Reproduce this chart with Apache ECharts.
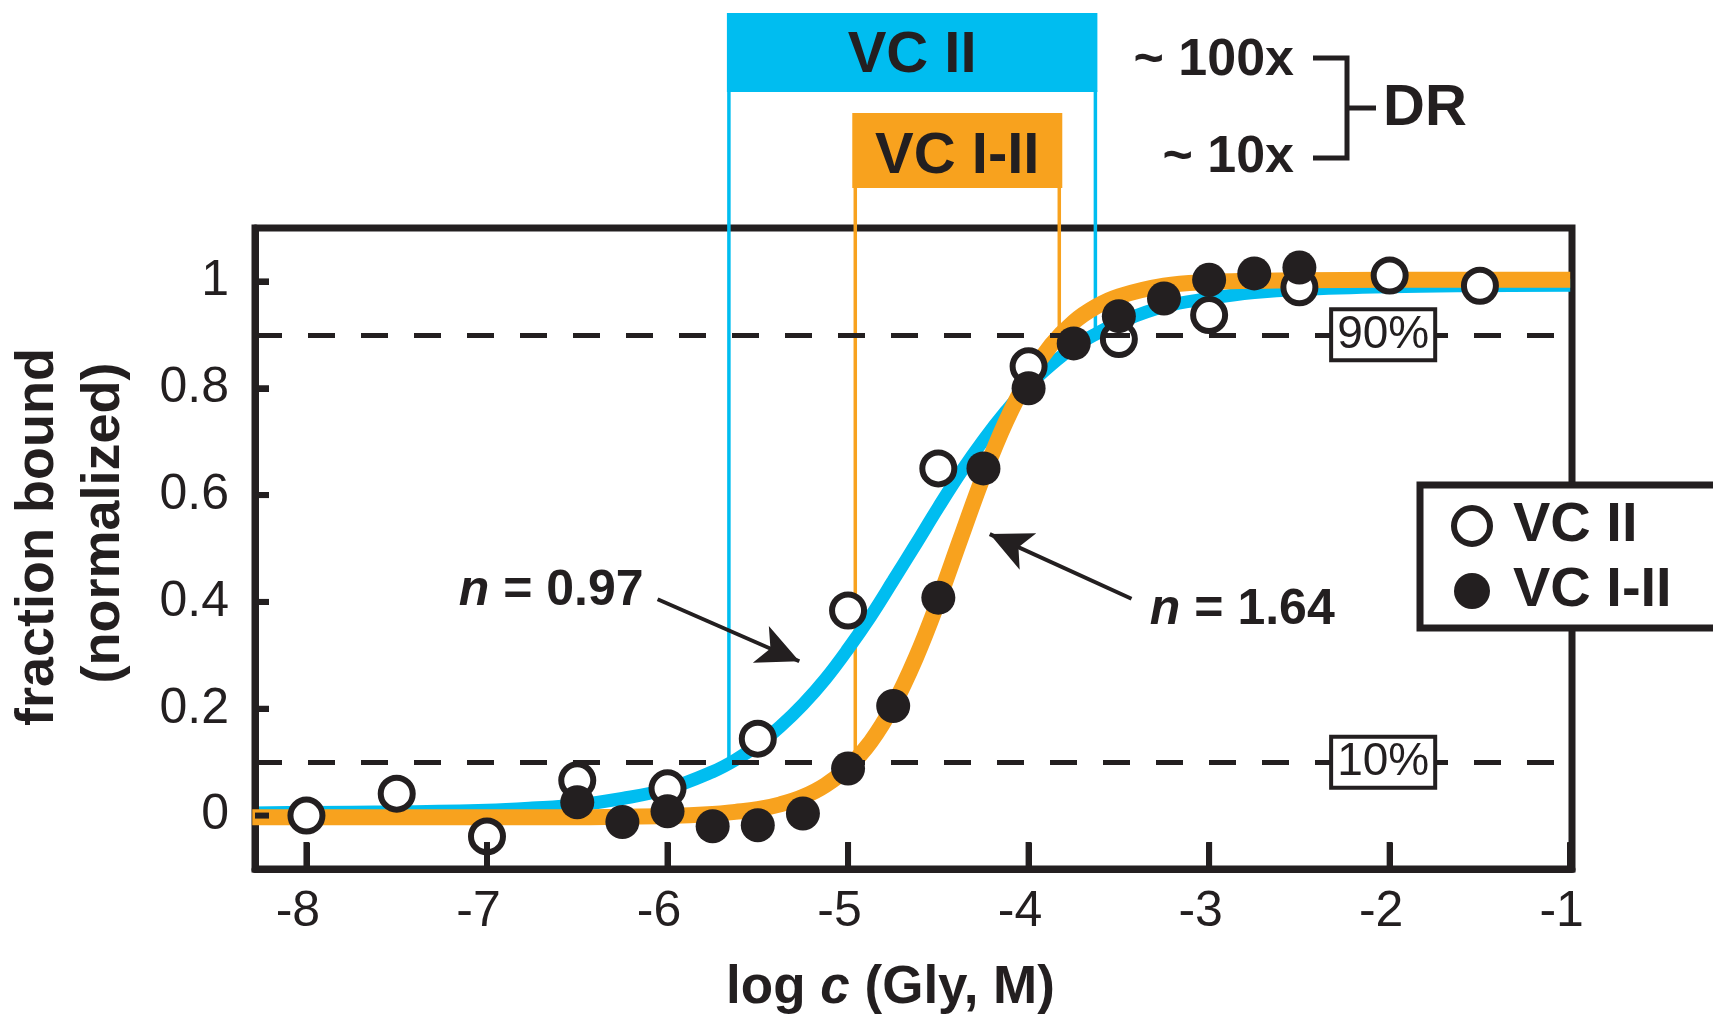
<!DOCTYPE html>
<html>
<head>
<meta charset="utf-8">
<title>fraction bound vs log c</title>
<script src="https://cdn.jsdelivr.net/npm/echarts@6.0.0/dist/echarts.min.js"></script>
<style>
  html, body { margin: 0; padding: 0; background: #fff; }
  #chart { width: 1713px; height: 1016px; }
</style>
</head>
<body>
<div id="chart"></div>
<script>
var ink = '#231f20';
var blue = '#00bdf0';
var orange = '#f8a21e';
var font = "'Liberation Sans', Arial, Helvetica, sans-serif";

// measured points, x = log c (Gly, M)
var vc2X = [-8, -7.5, -7, -6.5, -6, -5.5, -5, -4.5, -4, -3.5, -3, -2.5, -2, -1.5];
var vc2Y = [0.0, 0.041, -0.039, 0.066, 0.051, 0.144, 0.384, 0.65, 0.841, 0.892, 0.937, 0.989, 1.011, 0.992];
var vc12X = [-6.5, -6.25, -6, -5.75, -5.5, -5.25, -5, -4.75, -4.5, -4.25, -4, -3.75, -3.5, -3.25, -3, -2.75, -2.5];
var vc12Y = [0.025, -0.012, 0.008, -0.02, -0.018, 0.004, 0.088, 0.205, 0.408, 0.65, 0.8, 0.884, 0.935, 0.968, 1.003, 1.015, 1.026];

// fitted curves
var fitX = [-8.3, -8, -7.5, -7, -6.75, -6.5, -6.25, -6, -5.75, -5.625, -5.5, -5.375, -5.25, -5.125, -5,
  -4.875, -4.75, -4.625, -4.5, -4.375, -4.25, -4.125, -4, -3.875, -3.75, -3.625, -3.5, -3.25, -3,
  -2.75, -2.5, -2, -1.5, -1];
var fitVC2 = [0.005, 0.006, 0.007, 0.010, 0.014, 0.020, 0.032, 0.050, 0.082, 0.104, 0.132, 0.167, 0.208, 0.256, 0.312,
  0.373, 0.440, 0.508, 0.577, 0.643, 0.703, 0.757, 0.805, 0.844, 0.877, 0.902, 0.923, 0.953, 0.968,
  0.979, 0.985, 0.990, 0.992, 0.993];
var fitVC12 = [-0.003, -0.003, -0.003, -0.003, -0.003, -0.003, -0.002, -0.001, 0.003, 0.007, 0.012, 0.021, 0.035, 0.057, 0.090,
  0.138, 0.206, 0.295, 0.402, 0.520, 0.636, 0.738, 0.820, 0.881, 0.924, 0.953, 0.972, 0.992, 0.999,
  1.001, 1.002, 1.003, 1.003, 1.003];

var xTicks = [-8, -7, -6, -5, -4, -3, -2, -1];
var yTicks = [0, 0.2, 0.4, 0.6, 0.8, 1];
var xMin = -8.285, xMax = -0.99, yMin = -0.1, yMax = 1.1;

// 10% -> 90% crossing of each fit (dynamic range)
var rangeVC2 = [-5.66, -3.63];
var rangeVC12 = [-4.96, -3.83];
var levels = [0.1, 0.9];
var levelText = ['10%', '90%'];

function pairs(xs, ys) {
  return xs.map(function (x, i) { return [x, ys[i]]; });
}

var dash = { type: [27, 26], width: 5, color: ink };
var arrowLine = { type: 'solid', width: 4, color: ink };

function boxLabel(txt) {
  return {
    show: true, position: 'inside', formatter: txt,
    fontSize: 46, lineHeight: 42, color: ink, fontFamily: font,
    backgroundColor: '#fff', borderColor: ink, borderWidth: 4, padding: [3, 4, 2, 4]
  };
}
function nLabel(txt, pos) {
  return {
    show: true, position: pos, distance: 0, formatter: '{i|n} = ' + txt,
    fontSize: 50, fontWeight: 'bold', color: ink, fontFamily: font,
    rich: { i: { fontStyle: 'italic', fontWeight: 'bold', fontSize: 50, color: ink, fontFamily: font } }
  };
}
var hidden = { color: 'rgba(0,0,0,0)' };
var frame = { color: ink, width: 7 };

var option = {
  animation: false,
  backgroundColor: '#fff',
  textStyle: { fontFamily: font },
  grid: {
    left: 255, top: 228, width: 1317, height: 641,
    show: true, borderColor: ink, borderWidth: 7, backgroundColor: 'transparent',
    containLabel: false, outerBoundsMode: 'none'
  },
  legend: {
    orient: 'vertical', left: 1420, top: 485,
    data: [
      { name: 'VC II', icon: 'circle', itemStyle: { color: '#fff', borderColor: ink, borderWidth: 6 } },
      { name: 'VC I-II', icon: 'circle', itemStyle: { color: ink, borderWidth: 0 } }
    ],
    itemWidth: 36, itemHeight: 36, itemGap: 9,
    padding: [13, 90, 9, 31],
    backgroundColor: '#fff', borderColor: ink, borderWidth: 7,
    textStyle: { fontSize: 56, lineHeight: 52, fontWeight: 'bold', color: ink, fontFamily: font, padding: [0, 0, 0, 18] },
    selectedMode: false
  },
  xAxis: {
    type: 'value', min: xMin, max: xMax, position: 'bottom', z: 3,
    axisLine: { show: true, onZero: false, lineStyle: frame },
    splitLine: { show: false },
    axisTick: { show: true, inside: true, length: 26, customValues: xTicks, lineStyle: { color: ink, width: 6 } },
    axisLabel: { customValues: xTicks, margin: 18, fontSize: 50, color: ink, fontFamily: font, padding: [0, 17, 0, 0] },
    name: '{a|log }{b|c}{a| (Gly, M)}',
    nameLocation: 'middle', nameGap: 93,
    nameTextStyle: {
      padding: [0, 46, 0, 0],
      rich: {
        a: { fontSize: 53, fontWeight: 'bold', color: ink, fontFamily: font },
        b: { fontSize: 53, fontWeight: 'bold', fontStyle: 'italic', color: ink, fontFamily: font }
      }
    }
  },
  yAxis: {
    type: 'value', min: yMin, max: yMax, position: 'left', z: 3,
    axisLine: { show: true, onZero: false, lineStyle: frame },
    splitLine: { show: false },
    axisTick: { show: true, inside: true, length: 14, customValues: yTicks, lineStyle: { color: ink, width: 6 } },
    axisLabel: { customValues: yTicks, margin: 26, fontSize: 50, color: ink, fontFamily: font }
  },
  series: [
    {
      name: 'fit VC II', type: 'line', z: 2,
      data: pairs(fitX, fitVC2),
      showSymbol: false, symbol: 'none', smooth: 0.4,
      lineStyle: { color: blue, width: 13 },
      markLine: {
        silent: true, symbol: 'none', label: { show: false },
        data: [
          { yAxis: levels[1], lineStyle: dash },
          { yAxis: levels[0], lineStyle: dash }
        ]
      },
      markPoint: {
        silent: true, symbol: 'circle', symbolSize: 1, itemStyle: hidden,
        data: [
          { coord: [-2.036, levels[1]], label: boxLabel(levelText[1]) },
          { coord: [-2.036, levels[0]], label: boxLabel(levelText[0]) },
          { coord: [-6.13, 0.42], label: nLabel('0.97', 'left') }
        ]
      }
    },
    {
      name: 'fit VC I-II', type: 'line', z: 3,
      data: pairs(fitX, fitVC12),
      showSymbol: false, symbol: 'none', smooth: 0.4,
      lineStyle: { color: orange, width: 16 },
      markLine: {
        silent: true, symbol: 'none', label: { show: false },
        data: [
          [{ coord: [-6.055, 0.405], symbol: 'none', lineStyle: arrowLine },
           { coord: [-5.27, 0.289], symbol: 'arrow', symbolSize: [30, 42] }],
          [{ coord: [-3.43, 0.406], symbol: 'none', lineStyle: arrowLine },
           { coord: [-4.215, 0.527], symbol: 'arrow', symbolSize: [30, 42] }]
        ]
      },
      markPoint: {
        silent: true, symbol: 'circle', symbolSize: 1, itemStyle: hidden,
        data: [
          { coord: [-3.331, 0.385], label: nLabel('1.64', 'right') }
        ]
      }
    },
    {
      name: 'VC II', type: 'scatter', z: 4,
      data: pairs(vc2X, vc2Y),
      symbol: 'circle', symbolSize: 32,
      itemStyle: { color: '#fff', borderColor: ink, borderWidth: 6, opacity: 1 }
    },
    {
      name: 'VC I-II', type: 'scatter', z: 5,
      data: pairs(vc12X, vc12Y),
      symbol: 'circle', symbolSize: 34,
      itemStyle: { color: ink, opacity: 1 }
    }
  ]
};

var chart = echarts.init(document.getElementById('chart'), null, { renderer: 'canvas' });
chart.setOption(option);

function px(x, y) {
  return chart.convertToPixel({ gridIndex: 0 }, [x, y]);
}

// dynamic range brackets above the plot
var b0 = px(rangeVC2[0], levels[0]), b1 = px(rangeVC2[1], levels[1]);
var o0 = px(rangeVC12[0], levels[0]), o1 = px(rangeVC12[1], levels[1]);
var boldText = function (txt, x, y, size, align) {
  return {
    type: 'text', z: 10, x: x, y: y,
    style: { text: txt, fill: ink, font: 'bold ' + size + 'px ' + font, align: align || 'center', verticalAlign: 'middle' }
  };
};
var vline = function (x, yTop, yBot, color) {
  return { type: 'line', z: 0, shape: { x1: x, y1: yTop, x2: x, y2: yBot }, style: { stroke: color, lineWidth: 3.5 } };
};

// inward tick marks on the frame, placed through the axis scales, on their own layer
var tickMarks = xTicks.map(function (v) {
  var p = px(v, yMin);
  return { type: 'line', zlevel: 1, z: 100, silent: true, shape: { x1: p[0], y1: p[1], x2: p[0], y2: p[1] - 27 }, style: { stroke: ink, lineWidth: 6 } };
}).concat(yTicks.map(function (v) {
  var p = px(xMin, v);
  return { type: 'line', zlevel: 1, z: 100, silent: true, shape: { x1: p[0], y1: p[1], x2: p[0] + 14, y2: p[1] }, style: { stroke: ink, lineWidth: 6 } };
}));

chart.setOption({
  graphic: [
    { type: 'rect', z: 0, shape: { x: b0[0] - 2, y: 13, width: b1[0] - b0[0] + 4, height: 79 }, style: { fill: blue } },
    vline(b0[0], 90, b0[1], blue),
    vline(b1[0], 90, b1[1], blue),
    { type: 'rect', z: 0, shape: { x: o0[0] - 3, y: 113, width: o1[0] - o0[0] + 6, height: 75 }, style: { fill: orange } },
    vline(o0[0], 186, o0[1], orange),
    vline(o1[0], 186, o1[1], orange),
    boldText('VC II', (b0[0] + b1[0]) / 2, 56, 58),
    boldText('VC I-II', (o0[0] + o1[0]) / 2, 157, 58),
    boldText('~ 100x', 1294, 61, 52, 'right'),
    boldText('~ 10x', 1294, 158, 52, 'right'),
    {
      type: 'polyline', z: 10,
      shape: { points: [[1313, 58], [1347, 58], [1347, 158], [1313, 158]] },
      style: { stroke: ink, lineWidth: 5, fill: null }
    },
    { type: 'line', z: 10, shape: { x1: 1347, y1: 108, x2: 1376, y2: 108 }, style: { stroke: ink, lineWidth: 5 } },
    boldText('DR', 1383, 109, 58, 'left'),
    {
      type: 'text', z: 10, x: 38, y: 537, rotation: Math.PI / 2,
      style: { text: 'fraction bound', fill: ink, font: 'bold 54px ' + font, align: 'center', verticalAlign: 'middle' }
    },
    {
      type: 'text', z: 10, x: 104, y: 523, rotation: Math.PI / 2,
      style: { text: '(normalized)', fill: ink, font: 'bold 54px ' + font, align: 'center', verticalAlign: 'middle' }
    }
  ].concat(tickMarks)
});
</script>
</body>
</html>
